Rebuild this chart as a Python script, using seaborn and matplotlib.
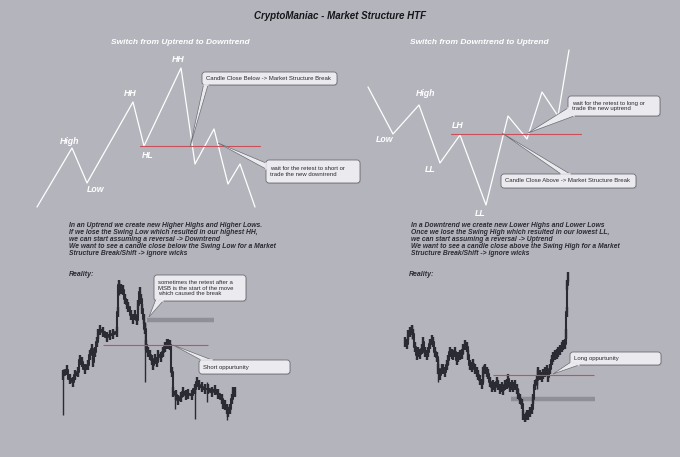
import matplotlib
matplotlib.use('Agg')
import matplotlib.pyplot as plt
import seaborn as sns
import pandas as pd
from matplotlib.patches import FancyBboxPatch, Polygon

# schematic swings (x position, level - higher is up)
up_x = [37, 72, 87, 133, 144, 181, 195, 214, 228, 240, 255]
up_y = [250, 309, 274, 355, 311, 389, 293, 328, 273, 293, 250]
down_x = [368, 393, 419, 440, 460, 486, 508, 527, 542, 558, 569]
down_y = [370, 323, 352, 294, 322, 252, 341, 318, 365, 341, 407]

up_labels = ['High', 'Low', 'HH', 'HL', 'HH']
up_lab_x = [70, 96, 130, 148, 178]
up_lab_y = [316, 267, 363, 302, 398]
down_labels = ['Low', 'High', 'LL', 'LH', 'LL']
down_lab_x = [385, 426, 430, 458, 480]
down_lab_y = [318, 363, 288, 332, 244]

# "reality" price paths (bar position, close)
left_bar = [25, 35, 45, 55, 60, 70, 75, 80, 90, 100, 105, 110, 115, 120, 125, 130, 135, 145, 155, 165,
            175, 185, 188, 192, 198, 205, 210, 215, 220, 228, 235, 240, 245, 250, 254, 258, 262, 266, 270, 273,
            278, 285, 290, 295, 300, 305, 310, 318, 325, 330, 335, 340, 345, 350, 355, 362, 370, 378, 385, 392,
            400, 410, 420, 425, 432, 440, 450, 460, 470, 480, 490, 500, 505, 510, 515, 520, 525, 530, 535, 540]
left_close = [14.0, 15.5, 13.0, 12.0, 14.0, 15.0, 18.5, 18.0, 16.0, 17.0, 20.0, 22.0, 18.0, 21.0, 24.0, 26.5, 27.5, 27.0, 25.5, 26.0,
              26.5, 27.0, 33.0, 41.0, 40.0, 39.5, 37.0, 35.5, 34.5, 32.0, 31.0, 32.0, 30.5, 35.0, 39.0, 37.0, 34.0, 31.0, 28.0, 23.0,
              21.0, 20.0, 18.5, 17.0, 19.0, 18.0, 20.0, 19.5, 21.0, 22.5, 23.5, 23.5, 23.0, 15.0, 9.0, 8.0, 6.5, 7.5, 9.0, 8.0,
              8.5, 8.0, 10.0, 12.0, 11.0, 10.5, 10.0, 10.0, 9.0, 9.5, 8.5, 7.0, 5.5, 5.0, 4.0, 3.0, 4.0, 7.0, 9.0, 9.0]
left_wick_x = [25, 192, 270, 360, 420, 515, 455]
left_wick_lo = [2.0, 38.0, 12.0, 4.0, 1.0, 0.5, 6.0]
left_wick_hi = [16.0, 42.5, 30.0, 9.0, 11.0, 5.0, 12.0]

right_bar = [15, 20, 25, 30, 35, 40, 45, 50, 55, 60, 65, 70, 75, 80, 85, 90, 95, 100, 105, 110,
             115, 120, 125, 130, 135, 140, 145, 150, 155, 160, 165, 170, 175, 180, 185, 190, 195, 200, 205, 210,
             215, 220, 225, 230, 235, 240, 245, 250, 255, 260, 265, 270, 275, 280, 285, 290, 295, 300, 305, 310,
             315, 320, 325, 330, 335, 340, 345, 350, 355, 360, 365, 370, 375, 380, 385, 390, 395, 400, 405, 410,
             415, 420, 425, 430, 435, 440, 445, 450, 455, 460, 465, 470, 475, 480, 485, 490, 495, 498, 500, 502, 503]
right_close = [24.0, 23.5, 26.0, 27.0, 27.5, 26.5, 22.5, 20.0, 21.0, 20.5, 22.0, 24.0, 21.0, 20.0, 21.0, 23.5, 24.5, 24.0, 21.0, 19.5,
               16.0, 14.0, 16.0, 16.0, 15.0, 17.0, 18.5, 21.0, 20.5, 20.0, 21.0, 18.5, 19.5, 20.0, 20.5, 22.0, 23.0, 22.5, 20.0, 17.0,
               16.5, 17.5, 16.0, 15.0, 14.0, 12.5, 11.5, 15.0, 16.0, 15.0, 14.5, 12.0, 10.5, 11.0, 10.5, 12.0, 11.0, 10.0, 10.5, 9.5,
               11.0, 11.5, 13.0, 10.5, 11.0, 10.5, 11.0, 10.0, 8.5, 7.0, 5.5, 2.0, 1.0, 2.0, 2.0, 3.0, 4.0, 7.0, 11.0, 12.5,
               15.0, 14.0, 13.5, 14.5, 15.0, 15.5, 13.5, 16.0, 18.5, 19.5, 20.0, 20.5, 21.0, 21.5, 22.5, 23.0, 23.5, 26.5, 33.0, 41.0, 43.5]
right_wick_x = [35, 115, 375, 250, 410]
right_wick_lo = [25.0, 12.0, 0.0, 12.0, 10.0]
right_wick_hi = [29.0, 19.0, 3.0, 17.0, 16.0]

BG = '#b4b4bd'
DARK = '#2b2b33'
RED = '#c9505a'
GREYBAR = '#8f8f97'
BOX = '#ebebef'
EDGE = '#6c6c74'
H = 457

sns.set_style('white')
plt.rcParams['font.family'] = ['Liberation Sans', 'DejaVu Sans']

fig = plt.figure(figsize=(6.8, 4.57), dpi=100, facecolor=BG)

# reality charts
def reality(left_px, xmax, bars, close, wx, wlo, whi, red, grey):
    ax = fig.add_axes([left_px / 680, (H - 422) / H, (xmax / 3) / 680, 150 / H])
    ax.set_xlim(0, xmax)
    ax.set_ylim(0, 45)
    ax.axis('off')
    ax.patch.set_alpha(0)
    ax.hlines(grey[2], grey[0], grey[1], color=GREYBAR, lw=3.2, zorder=1)
    ax.vlines(wx, wlo, whi, color=DARK, lw=1.0, zorder=2)
    df = pd.DataFrame({'bar': bars, 'close': close})
    # candle bodies around each close
    ax.vlines(df['bar'], df['close'] - 1.5, df['close'] + 1.5, color=DARK, lw=1.7, zorder=3)
    sns.lineplot(data=df, x='bar', y='close', ax=ax, color=DARK, lw=1.5,
                 drawstyle='steps-mid', sort=False, zorder=3)
    ax.hlines(red[2], red[0], red[1], color=RED, lw=0.8, zorder=4)
    ax.set_xlabel('')
    ax.set_ylabel('')
    return ax

reality(55, 570, left_bar, left_close, left_wick_x, left_wick_lo, left_wick_hi,
        (145, 460, 23.2), (275, 478, 30.5))
reality(400, 600, right_bar, right_close, right_wick_x, right_wick_lo, right_wick_hi,
        (280, 583, 14.0), (333, 585, 6.9))

ax = fig.add_axes([0, 0, 1, 1])
ax.set_xlim(0, 680)
ax.set_ylim(0, H)
ax.axis('off')
ax.patch.set_alpha(0)

sns.lineplot(x=up_x, y=up_y, ax=ax, color='white', lw=0.9, sort=False)
sns.lineplot(x=down_x, y=down_y, ax=ax, color='white', lw=0.9, sort=False)
ax.plot([140, 260], [H - 146, H - 146], color=RED, lw=0.8)
ax.plot([451, 581], [H - 134, H - 134], color=RED, lw=0.8)

lab_kw = dict(color='white', fontsize=6.3, fontweight='bold', fontstyle='italic', ha='center', va='center')
for t, x, y in zip(up_labels, up_lab_x, up_lab_y):
    ax.text(x, y, t, **lab_kw)
for t, x, y in zip(down_labels, down_lab_x, down_lab_y):
    ax.text(x, y, t, **lab_kw)

ax.text(340, H - 16, 'CryptoManiac - Market Structure HTF', ha='center', va='center',
        fontsize=7.0, fontweight='bold', fontstyle='italic', color='#15151a')
ax.text(180, H - 42, 'Switch from Uptrend to Downtrend', **{**lab_kw, 'fontsize': 6.0})
ax.text(479, H - 42, 'Switch from Downtrend to Uptrend', **{**lab_kw, 'fontsize': 6.0})

para_kw = dict(fontsize=4.85, fontweight='bold', fontstyle='italic', color=DARK,
               ha='left', va='top', linespacing=1.02)
ax.text(69, H - 222, 'In an Uptrend we create new Higher Highs and Higher Lows.\n'
        'If we lose the Swing Low which resulted in our highest HH,\n'
        'we can start assuming a reversal -> Downtrend\n'
        'We want to see a candle close below the Swing Low for a Market\n'
        'Structure Break/Shift -> ignore wicks', **para_kw)
ax.text(411, H - 222, 'In a Downtrend we create new Lower Highs and Lower Lows\n'
        'Once we lose the Swing High which resulted in our lowest LL,\n'
        'we can start assuming a reversal -> Uptrend\n'
        'We want to see a candle close above the Swing High for a Market\n'
        'Structure Break/Shift -> ignore wicks', **para_kw)
ax.text(69, H - 275, 'Reality:', **{**para_kw, 'va': 'center', 'fontsize': 5.0})
ax.text(409, H - 274, 'Reality:', **{**para_kw, 'va': 'center', 'fontsize': 5.0})


def callout(x0, y0, x1, y1, text, base, tip):
    # soft shadow
    ax.add_patch(FancyBboxPatch((x0 + 0.8, H - y1 - 1.0), x1 - x0, y1 - y0,
                                boxstyle='round,pad=0,rounding_size=3',
                                fc='#9a9aa2', ec='none', alpha=0.5, zorder=4))
    box = FancyBboxPatch((x0, H - y1), x1 - x0, y1 - y0,
                         boxstyle='round,pad=0,rounding_size=3',
                         fc=BOX, ec=EDGE, lw=0.6, zorder=5)
    ax.add_patch(box)
    pts = [(bx, H - by) for bx, by in base] + [(tip[0], H - tip[1])]
    ax.add_patch(Polygon(pts, closed=True, fc=BOX, ec=EDGE, lw=0.5, zorder=6))
    ax.plot([pts[0][0], pts[1][0]], [pts[0][1], pts[1][1]], color=BOX, lw=1.2, zorder=7)
    ax.text(x0 + 4, H - (y0 + y1) / 2, text, fontsize=4.3, color='#2a2a2f',
            ha='left', va='center', linespacing=1.2, zorder=8)


callout(202, 72, 337, 85, 'Candle Close Below -> Market Structure Break',
        [(203.5, 85), (208, 85)], (190, 147))
callout(266, 160, 360, 183, 'wait for the retest to short or\ntrade the new downtrend',
        [(266, 163), (266, 169)], (218, 143))
callout(568, 96, 660, 116, 'wait for the retest to long or\ntrade the new uptrend',
        [(568, 108), (574, 116)], (528, 133))
callout(501, 174, 636, 188, 'Candle Close Above -> Market Structure Break',
        [(561, 174), (570, 174)], (502, 133))
callout(154, 275, 246, 301, 'sometimes the retest after a\nMSB is the start of the move\nwhich caused the break',
        [(156, 299), (163, 301)], (149, 317))
callout(199, 360, 290, 374, 'Short oppurtunity',
        [(201, 360), (212, 360)], (173, 345))
callout(570, 352, 661, 365, 'Long oppurtunity',
        [(571, 362), (579, 365)], (553, 374))

fig.savefig('out.png', dpi=100, facecolor=BG)
